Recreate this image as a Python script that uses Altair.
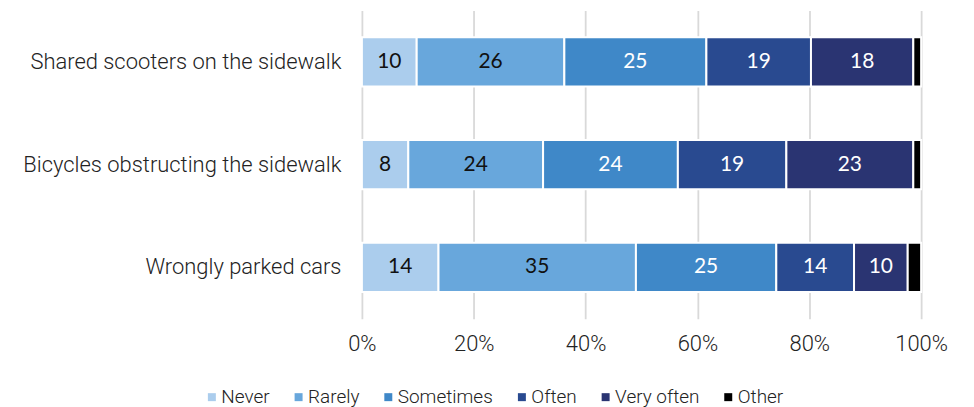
import altair as alt
import pandas as pd

categories = ["Shared scooters on the sidewalk", "Bicycles obstructing the sidewalk", "Wrongly parked cars"]
levels = ["Never", "Rarely", "Sometimes", "Often", "Very often", "Other"]
colors = ["#ABCDED", "#68A7DC", "#3F88C8", "#294A90", "#2A3472", "#000000"]

scooters = [9.8, 26.4, 25.4, 18.7, 18.3, 1.4]
bicycles = [8.3, 24.1, 24.1, 19.4, 22.7, 1.4]
cars = [13.7, 35.3, 25.1, 13.9, 9.6, 2.4]

scooters_labels = ["10", "26", "25", "19", "18", ""]
bicycles_labels = ["8", "24", "24", "19", "23", ""]
cars_labels = ["14", "35", "25", "14", "10", ""]

rows = []
for cat, vals, labs in zip(categories, [scooters, bicycles, cars],
                           [scooters_labels, bicycles_labels, cars_labels]):
    for i, (lev, v, lab) in enumerate(zip(levels, vals, labs)):
        rows.append({"category": cat, "level": lev, "value": v, "label": lab, "idx": i})
df = pd.DataFrame(rows)

yenc = alt.Y("category:N", sort=categories,
             scale=alt.Scale(paddingInner=0.52, paddingOuter=0.26),
             axis=alt.Axis(title=None, labelFontSize=22, labelFont="Roboto",
                           labelFontWeight=300, labelColor="#222222",
                           labelPadding=21, ticks=False, domain=False, labelLimit=400))

base = alt.Chart(df)

bars = base.mark_bar(stroke="white", strokeWidth=2).encode(
    y=yenc,
    x=alt.X("value:Q", stack="zero", scale=alt.Scale(domain=[0, 100]),
            axis=alt.Axis(values=[0, 20, 40, 60, 80, 100], labelExpr="datum.value + '%'",
                          title=None, grid=True, gridColor="#D9D9D9", gridWidth=1.8,
                          ticks=False, domain=False, labelFontSize=22, labelFont="Roboto",
                          labelFontWeight=300, labelColor="#222222", labelPadding=15,
                          labelFlush=False)),
    color=alt.Color("level:N", sort=levels,
                    scale=alt.Scale(domain=levels, range=colors),
                    legend=alt.Legend(title=None, orient="none", direction="horizontal",
                                      legendX=-160, legendY=378, symbolType="square",
                                      symbolSize=64, symbolStrokeWidth=0, labelOffset=0,
                                      columnPadding=19, labelFontSize=19, labelFont="Roboto",
                                      labelFontWeight=300, labelColor="#222222", padding=0)),
    order=alt.Order("idx:Q"),
)

texts = base.transform_stack(
    stack="value", as_=["v0", "v1"], groupby=["category"], sort=[alt.SortField("idx")]
).transform_calculate(
    mid="(datum.v0 + datum.v1) / 2"
).transform_filter(
    "datum.label != ''"
).mark_text(font="Lato", fontSize=21).encode(
    y=alt.Y("category:N", sort=categories),
    x=alt.X("mid:Q"),
    text="label:N",
    color=alt.condition("datum.idx < 2", alt.value("#111111"), alt.value("white")),
)

chart = alt.layer(bars, texts).properties(
    width=561, height=309,
    autosize=alt.AutoSizeParams(type="none"),
    padding={"left": 355, "top": 2, "right": 45, "bottom": 90},
).configure_view(stroke=None)

chart.save("out.html", embed_options={"renderer": "svg", "actions": False})
